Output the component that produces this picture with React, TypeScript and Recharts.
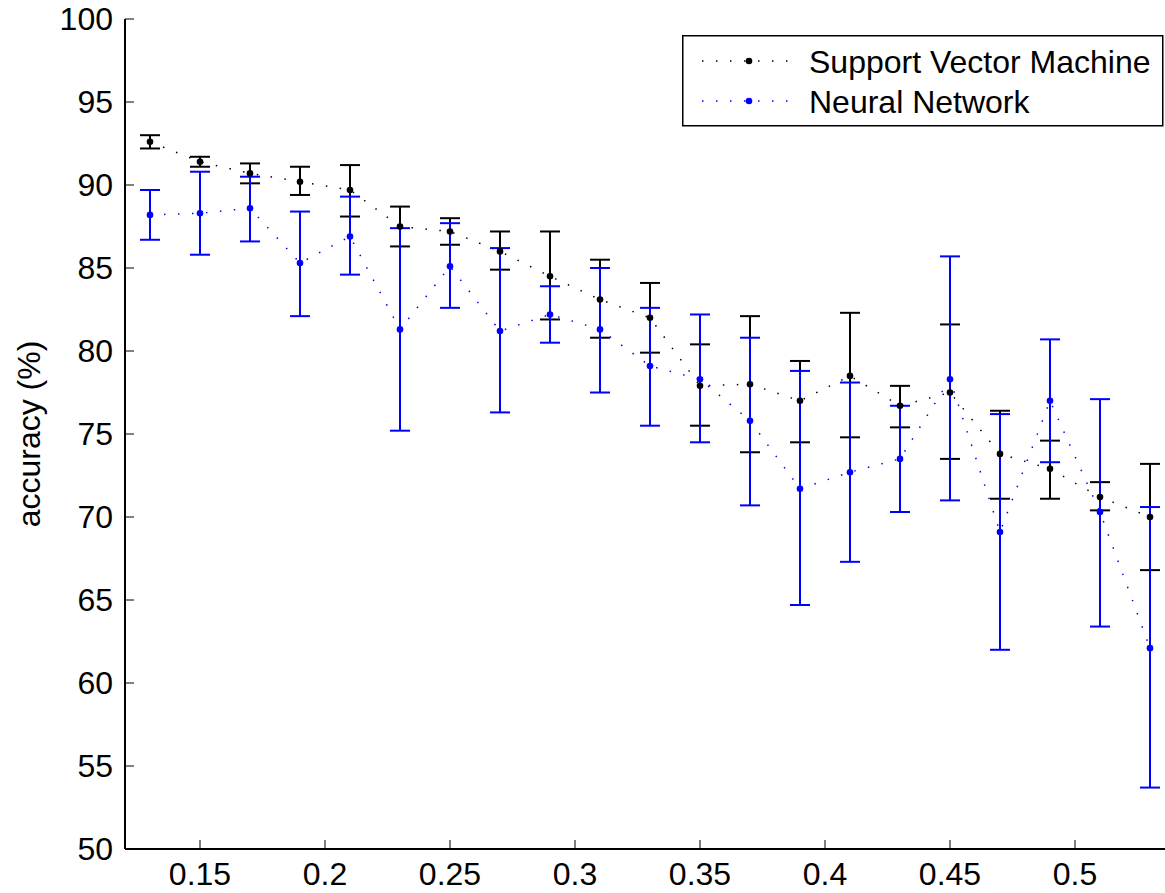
import React from "react";
import { ComposedChart, Line, XAxis, YAxis, ErrorBar, Legend } from "recharts";

const FONT = '"Liberation Sans", Arial, Helvetica, sans-serif';

const thresholds = [0.13, 0.15, 0.17, 0.19, 0.21, 0.23, 0.25, 0.27, 0.29, 0.31, 0.33, 0.35, 0.37, 0.39, 0.41, 0.43, 0.45, 0.47, 0.49, 0.51, 0.53];

const svmMean = [92.6, 91.4, 90.7, 90.2, 89.7, 87.5, 87.2, 86.0, 84.5, 83.1, 82.0, 77.9, 78.0, 77.0, 78.5, 76.7, 77.5, 73.8, 72.9, 71.2, 70.0];
const svmUpper = [93.0, 91.7, 91.3, 91.1, 91.2, 88.7, 88.0, 87.2, 87.2, 85.5, 84.1, 80.4, 82.1, 79.4, 82.3, 77.9, 81.6, 76.4, 74.6, 72.1, 73.2];
const svmLower = [92.2, 91.1, 90.1, 89.4, 88.1, 86.3, 86.4, 84.9, 81.9, 80.8, 79.9, 75.5, 73.9, 74.5, 74.8, 75.4, 73.5, 71.1, 71.1, 70.4, 66.8];

const nnMean = [88.2, 88.3, 88.6, 85.3, 86.9, 81.3, 85.1, 81.2, 82.2, 81.3, 79.1, 78.3, 75.8, 71.7, 72.7, 73.5, 78.3, 69.1, 77.0, 70.3, 62.1];
const nnUpper = [89.7, 90.8, 90.5, 88.4, 89.3, 87.4, 87.7, 86.2, 83.9, 85.0, 82.6, 82.2, 80.8, 78.8, 78.1, 76.7, 85.7, 76.2, 80.7, 77.1, 70.6];
const nnLower = [86.7, 85.8, 86.6, 82.1, 84.6, 75.2, 82.6, 76.3, 80.5, 77.5, 75.5, 74.5, 70.7, 64.7, 67.3, 70.3, 71.0, 62.0, 73.3, 63.4, 53.7];

const xTicks = [0.15, 0.2, 0.25, 0.3, 0.35, 0.4, 0.45, 0.5];
const yTicks = [50, 55, 60, 65, 70, 75, 80, 85, 90, 95, 100];

const seriesNames = ["Support Vector Machine", "Neural Network"];
const seriesColors = ["#000000", "#0000ff"];

// errors are [below, above] the mean, as ErrorBar wants them
const data = thresholds.map((x, i) => ({
  x,
  svm: svmMean[i],
  svmErr: [svmMean[i] - svmLower[i], svmUpper[i] - svmMean[i]],
  nn: nnMean[i],
  nnErr: [nnMean[i] - nnLower[i], nnUpper[i] - nnMean[i]],
}));

const tickStyle = { fontSize: 32, fill: "#000", fontFamily: FONT };

function LegendBox() {
  return (
    <svg width={482} height={92} style={{ display: "block" }}>
      <rect x={0.75} y={0.75} width={480} height={90} fill="#fff" stroke="#000" strokeWidth={1.5} />
      {seriesNames.map((name, i) => {
        const cy = 26 + i * 40;
        return (
          <g key={name}>
            <line x1={20} x2={108} y1={cy} y2={cy} stroke={seriesColors[i]} strokeWidth={1.5} strokeDasharray="1.5 12.5" />
            <circle cx={67} cy={cy} r={3.3} fill={seriesColors[i]} />
            <text x={127} y={cy + 11.5} fontSize={32} fontFamily={FONT} fill="#000">
              {name}
            </text>
          </g>
        );
      })}
    </svg>
  );
}

export default function App() {
  return (
    <div style={{ width: 1165, height: 893, overflow: "hidden" }}>
      <style>{"html, body { margin: 0; padding: 0; overflow: hidden; }"}</style>
      <ComposedChart
        width={1180}
        height={893}
        data={data}
        margin={{ top: 19, right: 5, bottom: 0, left: 0 }}
        style={{ fontFamily: FONT }}
      >
        <XAxis
          xAxisId="top"
          orientation="top"
          type="number"
          dataKey="x"
          domain={[0.12, 0.54]}
          allowDataOverflow
          ticks={xTicks}
          height={0}
          tick={false}
          tickSize={-9}
          axisLine={{ stroke: "#000", strokeWidth: 1 }}
          tickLine={{ stroke: "#000", strokeWidth: 1 }}
        />
        <XAxis
          type="number"
          dataKey="x"
          domain={[0.12, 0.54]}
          allowDataOverflow
          ticks={xTicks}
          height={44}
          tickSize={-9}
          tickMargin={22}
          tick={tickStyle}
          axisLine={{ stroke: "#000", strokeWidth: 2 }}
          tickLine={{ stroke: "#000", strokeWidth: 1 }}
        />
        <YAxis
          type="number"
          domain={[50, 100]}
          ticks={yTicks}
          width={125}
          tickSize={-9}
          tickMargin={21}
          tick={tickStyle}
          axisLine={{ stroke: "#000", strokeWidth: 2 }}
          tickLine={{ stroke: "#000", strokeWidth: 1 }}
          label={{
            value: "accuracy (%)",
            angle: -90,
            position: "insideLeft",
            offset: 29,
            style: { textAnchor: "middle", fontSize: 32, fill: "#000", fontFamily: FONT },
          }}
        />
        <Legend
          layout="horizontal"
          align="center"
          verticalAlign="middle"
          content={() => <LegendBox />}
          wrapperStyle={{ position: "absolute", left: 682, top: 35, width: 482, height: 92 }}
        />
        <Line
          dataKey="svm"
          name={seriesNames[0]}
          stroke={seriesColors[0]}
          strokeWidth={1.5}
          strokeDasharray="1.5 12.5"
          dot={{ r: 3.3, fill: seriesColors[0], stroke: "none" }}
          activeDot={false}
          isAnimationActive={false}
        >
          <ErrorBar dataKey="svmErr" direction="y" width={10} stroke={seriesColors[0]} strokeWidth={2} isAnimationActive={false} />
        </Line>
        <Line
          dataKey="nn"
          name={seriesNames[1]}
          stroke={seriesColors[1]}
          strokeWidth={1.5}
          strokeDasharray="1.5 12.5"
          dot={{ r: 3.3, fill: seriesColors[1], stroke: "none" }}
          activeDot={false}
          isAnimationActive={false}
        >
          <ErrorBar dataKey="nnErr" direction="y" width={10} stroke={seriesColors[1]} strokeWidth={2} isAnimationActive={false} />
        </Line>
      </ComposedChart>
    </div>
  );
}
